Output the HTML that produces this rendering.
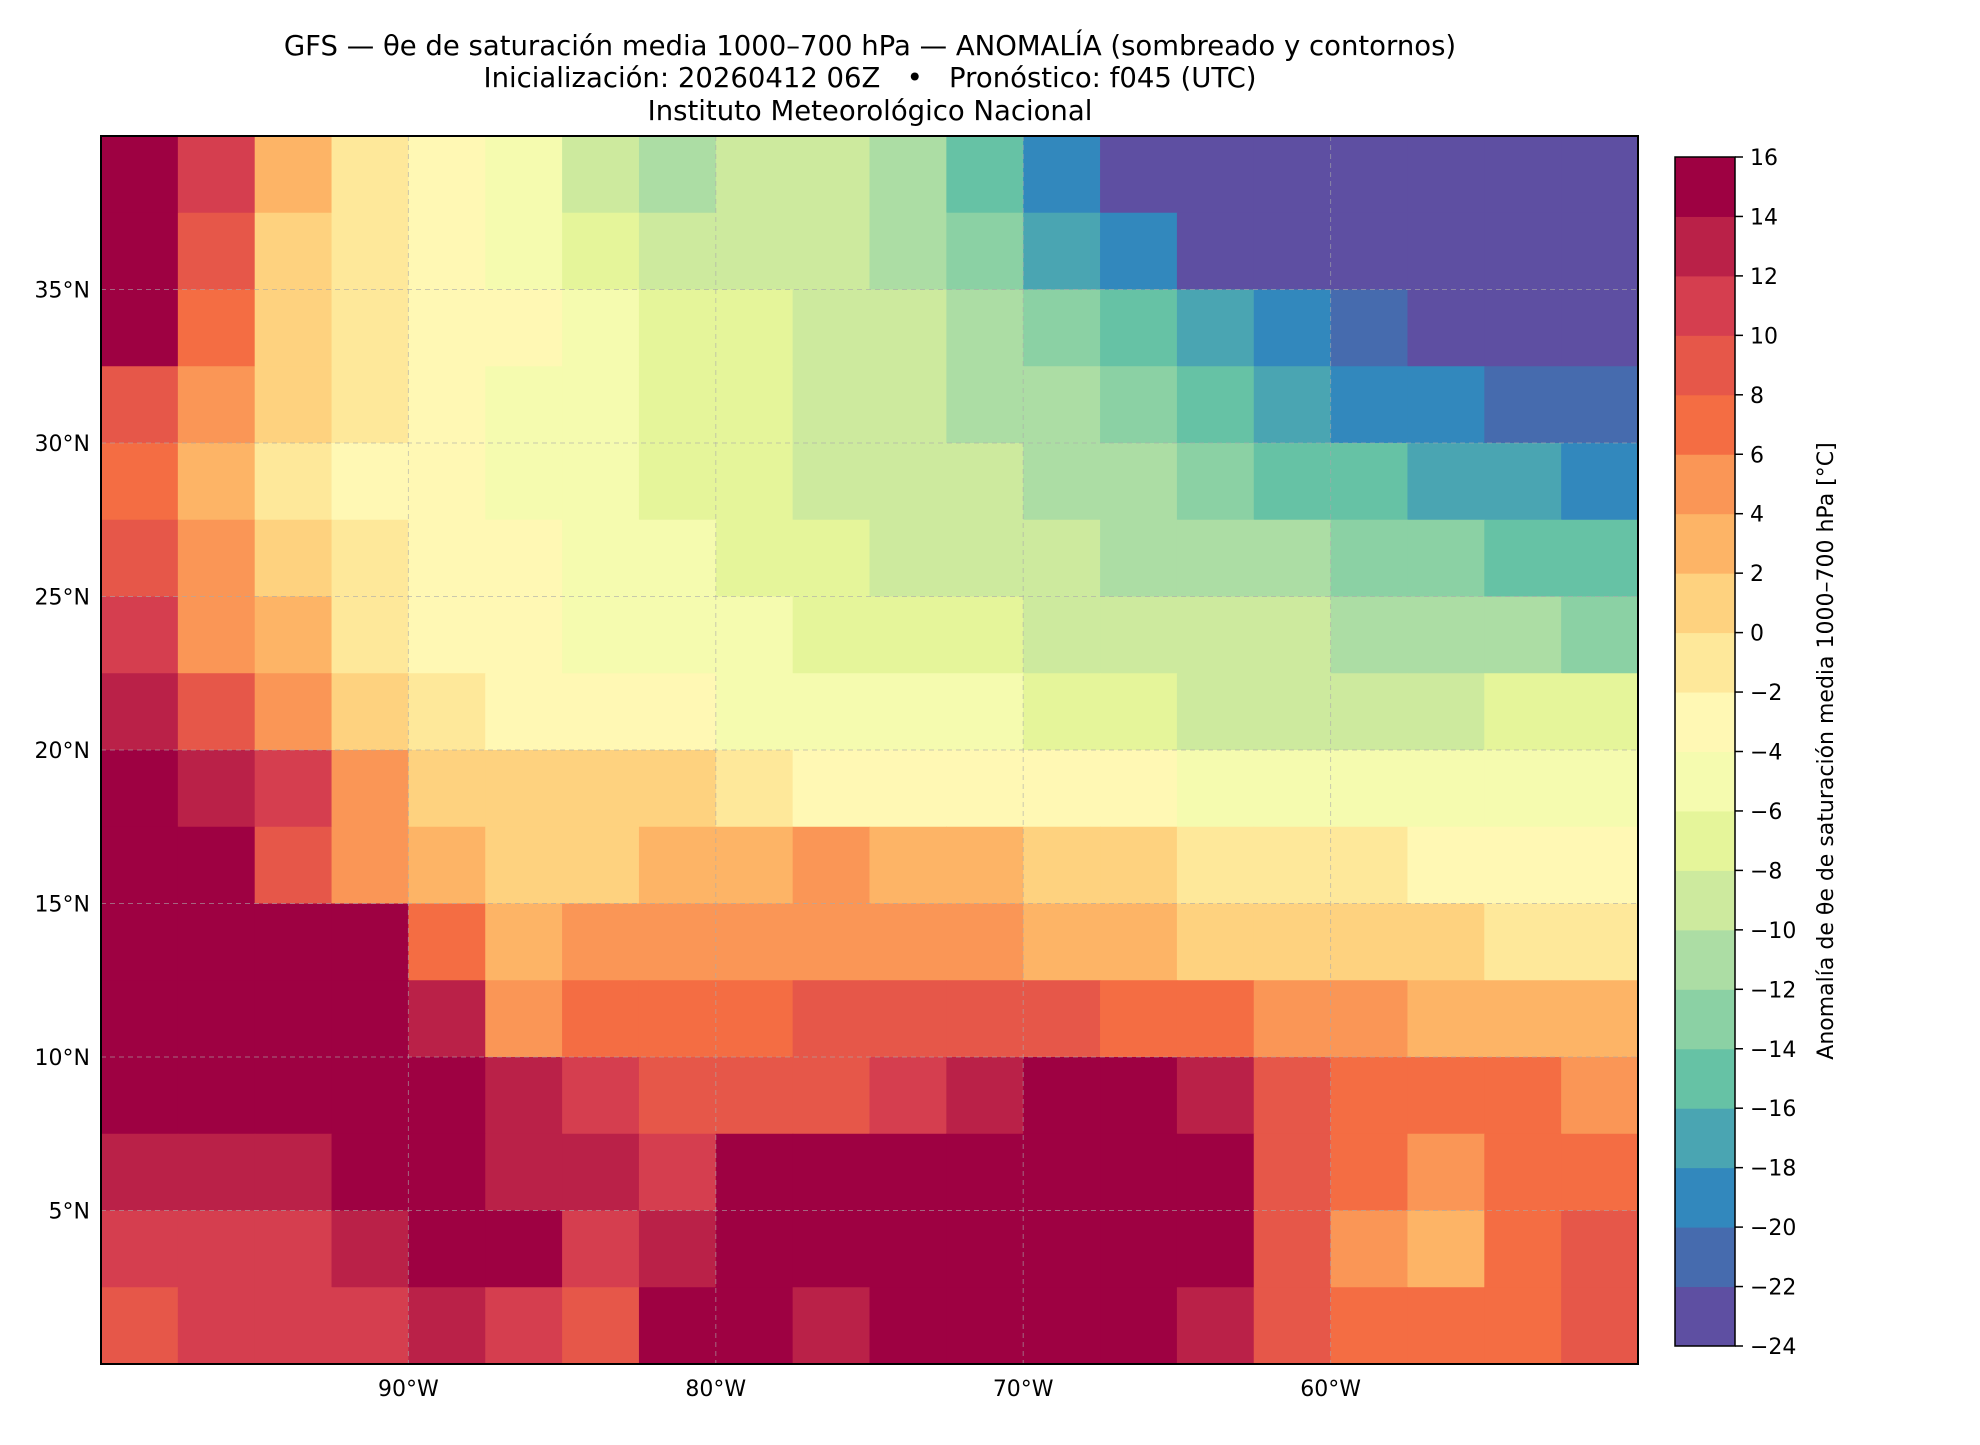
<!DOCTYPE html>
<html><head><meta charset="utf-8"><style>
body{margin:0;background:#fff;}
svg text{font-family:"DejaVu Sans","Liberation Sans",sans-serif;}
</style></head><body>
<svg id="chart" width="1980" height="1440" viewBox="0 0 1980 1440" xmlns="http://www.w3.org/2000/svg">
<g font-size="27.5" text-anchor="middle" fill="#000">
<text x="870" y="55">GFS — θe de saturación media 1000–700 hPa — ANOMALÍA (sombreado y contornos)</text>
<text x="870" y="87" xml:space="preserve">Inicialización: 20260412 06Z   •   Pronóstico: f045 (UTC)</text>
<text x="870" y="120">Instituto Meteorológico Nacional</text>
</g>
<g id="cells"></g>
<g id="grid"></g>
<rect x="101" y="136" width="1537" height="1228" fill="none" stroke="#000" stroke-width="2"/>
<g id="xticks"></g>
<g id="yticks"></g>
<g id="cbar"></g>
<text transform="translate(1833,751) rotate(-90)" text-anchor="middle" font-size="22">Anomalía de θe de saturación media 1000–700 hPa [°C]</text>
</svg>
<script>
const lons=[-98.75,-96.25,-93.75,-91.25,-88.75,-86.25,-83.75,-81.25,-78.75,-76.25,-73.75,-71.25,-68.75,-66.25,-63.75,-61.25,-58.75,-56.25,-53.75,-51.25];
const lats=[38.75,36.25,33.75,31.25,28.75,26.25,23.75,21.25,18.75,16.25,13.75,11.25,8.75,6.25,3.75,1.25];
const anom=[
[16,10,2,-2,-4,-6,-10,-12,-10,-10,-12,-16,-20,-24,-24,-24,-24,-24,-24,-24],
[16,8,0,-2,-4,-6,-8,-10,-10,-10,-12,-14,-18,-20,-23,-24,-24,-24,-24,-24],
[14,6,0,-2,-4,-4,-6,-8,-8,-10,-10,-12,-14,-16,-18,-20,-22,-23,-24,-24],
[8,4,0,-2,-4,-6,-6,-8,-8,-10,-10,-11,-12,-14,-16,-18,-20,-20,-21,-22],
[6,2,-1,-3,-4,-6,-6,-7,-8,-9,-10,-10,-11,-12,-14,-16,-16,-18,-18,-19],
[8,4,0,-2,-4,-4,-6,-6,-7,-8,-9,-10,-10,-11,-12,-12,-14,-14,-15,-16],
[10,5,2,-1,-3,-4,-5,-6,-6,-7,-8,-8,-9,-9,-10,-10,-11,-11,-12,-13],
[12,8,4,1,-2,-3,-4,-4,-5,-5,-6,-6,-7,-8,-9,-10,-10,-9,-8,-8],
[16,12,10,4,0,0,1,0,-2,-3,-3,-3,-3,-4,-5,-5,-5,-5,-5,-6],
[16,16,8,4,2,1,0,2,3,4,3,2,1,0,-1,-2,-2,-3,-3,-4],
[16,16,16,14,6,2,4,5,5,5,5,4,3,2,1,0,0,0,-1,-1],
[16,14,14,16,12,4,6,7,7,8,8,9,8,7,6,5,4,3,2,2],
[14,14,14,14,14,12,10,8,8,9,10,12,14,16,12,9,7,6,6,5],
[13,12,12,14,16,12,12,10,14,14,16,16,16,16,16,8,6,5,6,6],
[11,11,11,12,16,14,10,12,14,16,16,16,16,16,14,8,4,3,6,8],
[9,10,10,10,12,10,8,14,16,12,14,16,16,16,12,8,6,6,6,8]];
const levels=[-24,-22,-20,-18,-16,-14,-12,-10,-8,-6,-4,-2,0,2,4,6,8,10,12,14,16];
const xTickLons=[-90,-80,-70,-60];
const yTickLats=[5,10,15,20,25,30,35];
const colors=["#5e4fa2","#466bae","#3288bd","#4aa5b2","#66c2a5","#8bd1a4","#acdda4","#cdea9e","#e5f59a","#f5fbaf","#fff8b4","#fee89a","#fed27f","#fdb466","#fa9656","#f46d43","#e65749","#d53e4f","#ba2148","#9e0142"];
const NS="http://www.w3.org/2000/svg";
const X0=101,X1=1638,Y0=136,Y1=1364;
const xs=lon=>X0+(lon+100)/50*(X1-X0);
const ys=lat=>Y1-lat/40*(Y1-Y0);
function col(v){let i=Math.floor((v+24)/2);if(i<0)i=0;if(i>19)i=19;return colors[i];}
function mk(t,a,p){const e=document.createElementNS(NS,t);for(const k in a)e.setAttribute(k,a[k]);p.appendChild(e);return e;}
const cells=document.getElementById('cells');
lats.forEach((la,j)=>lons.forEach((lo,i)=>{
 const x=xs(lo-1.25),y=ys(la+1.25);
 const r=mk('rect',{x:x,y:y,width:xs(lo+1.25)-x+0.6,height:ys(la-1.25)-y+0.6,fill:col(anom[j][i])},cells);
 
 
}));
const grid=document.getElementById('grid');
xTickLons.forEach(l=>{const e=mk('line',{x1:xs(l),x2:xs(l),y1:Y0,y2:Y1,stroke:'#aaa','stroke-width':1,'stroke-dasharray':'5,4',opacity:0.6},grid);
 
 });
yTickLats.forEach(l=>{const e=mk('line',{x1:X0,x2:X1,y1:ys(l),y2:ys(l),stroke:'#aaa','stroke-width':1,'stroke-dasharray':'5,4',opacity:0.6},grid);
 
 });
const xt=document.getElementById('xticks');
xTickLons.forEach(l=>{const t=mk('text',{x:xs(l),y:1396,'text-anchor':'middle','font-size':22},xt);t.textContent=(-l)+'°W';
 
 });
const yt=document.getElementById('yticks');
yTickLats.forEach(l=>{const t=mk('text',{x:90,y:ys(l)+8,'text-anchor':'end','font-size':22},yt);t.textContent=l+'°N';
 
 });
const cb=document.getElementById('cbar');
const CX0=1675,CX1=1735,CT=157,CB=1346;
const cy=v=>CB-(v+24)/40*(CB-CT);
colors.forEach((c,i)=>{const r=mk('rect',{x:CX0,y:cy(levels[i+1]),width:CX1-CX0,height:cy(levels[i])-cy(levels[i+1])+0.5,fill:c},cb);
 
 });
mk('rect',{x:CX0,y:CT,width:CX1-CX0,height:CB-CT,fill:'none',stroke:'#000','stroke-width':1.5},cb);
levels.forEach(v=>{mk('line',{x1:CX1,x2:CX1+8,y1:cy(v),y2:cy(v),stroke:'#000','stroke-width':1.5},cb);
 const t=mk('text',{x:CX1+15,y:cy(v)+8,'font-size':22},cb);t.textContent=(v<0?'−':'')+Math.abs(v);
 
 });
</script>
</body></html>
